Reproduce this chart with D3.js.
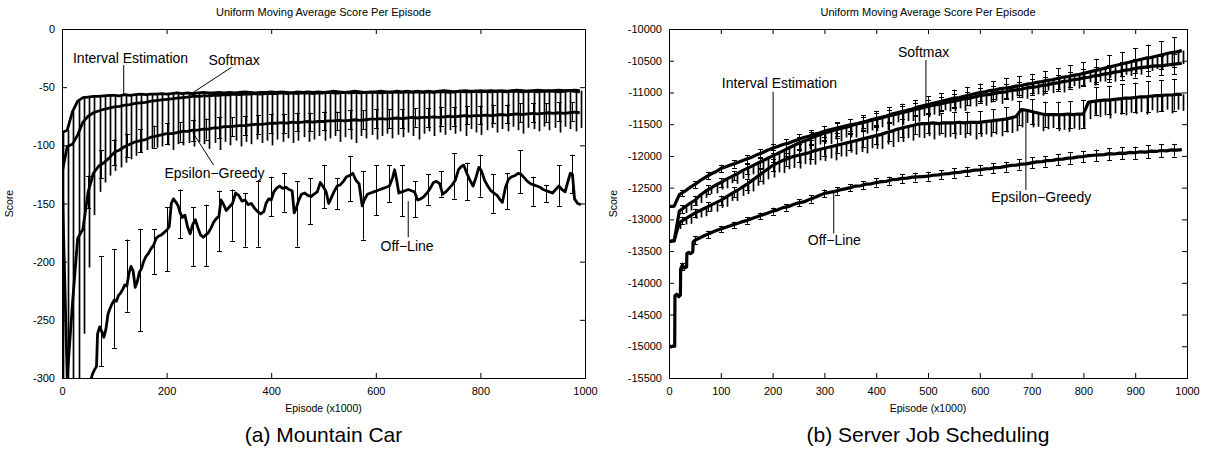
<!DOCTYPE html>
<html>
<head>
<meta charset="utf-8">
<script src="https://cdn.jsdelivr.net/npm/d3@7"></script>
<style>
  body { margin: 0; background: #fff; }
  text { font-family: "Liberation Sans", Arial, Helvetica, sans-serif; fill: #000; }
</style>
</head>
<body>
<div id="chart"></div>
<script>
// ---------- shared ----------
const titleText = "Uniform Moving Average Score Per Episode";
const xLabelText = "Episode (x1000)";
const yLabelText = "Score";
const episodes = d3.range(0, 1000, 10);   // sample grid, x1000 episodes

// ---------- (a) Mountain Car ----------
const mcXTicks = [0, 200, 400, 600, 800, 1000];
const mcYTicks = [0, -50, -100, -150, -200, -250, -300];

const mcIE = [-89,-87,-71,-62,-59,-58.5,-58,-58,-57.5,-57,
  -57,-57.5,-56.5,-57,-56.5,-56,-56.5,-56,-56,-55.5,
  -56,-55.5,-55,-55.5,-55,-55.5,-55,-54.5,-55,-55,
  -54.5,-55,-54.5,-55,-54.5,-54,-54.5,-55,-54.5,-54.5,
  -54,-54.5,-54,-54.5,-55,-54,-54.5,-54,-54.5,-54,
  -54.5,-54,-53.5,-54,-54.5,-54,-53.5,-54,-54.5,-54,
  -54,-53.5,-54,-54.5,-53.5,-54,-53.5,-54,-53.5,-54,
  -53.5,-54,-53.5,-53,-53.5,-54,-53.5,-53,-53.5,-53.5,
  -53,-53.5,-53,-53.5,-53,-53.5,-53,-52.5,-53,-53.5,
  -53,-52.5,-53,-53.5,-53,-52.5,-53,-53,-52.5,-53];

const mcSoftmax = [-124,-101,-99,-91,-80,-75,-72,-70.5,-69,-68,
  -67,-66.5,-65.5,-65,-64,-63.5,-63,-62,-61.5,-61,
  -60.5,-60,-59.5,-59,-58.5,-58,-58,-57.5,-57.5,-57,
  -57,-56.5,-56.5,-56,-56.5,-56,-56,-55.5,-56,-55.5,
  -55.5,-55.5,-55,-55.5,-55,-55.5,-55,-55,-55.5,-55,
  -55,-54.5,-55,-55,-54.5,-55,-54.5,-55,-54.5,-54.5,
  -54.5,-55,-54.5,-54,-54.5,-54.5,-54,-54.5,-54,-54.5,
  -54,-54.5,-54,-54,-54.5,-54,-53.5,-54,-54,-53.5,
  -54,-53.5,-54,-53.5,-53.5,-54,-53.5,-53.5,-54,-53.5,
  -53.5,-54,-53.5,-53,-53.5,-54,-53.5,-53,-53.5,-54];

const mcEpsilon = [-124,-300,-236,-180,-172,-140,-124,-118,-115,-111,
  -106,-104,-101,-99,-97,-96,-95,-93,-92,-91,
  -90,-90,-89,-88,-88,-87,-87,-86,-86,-85,
  -85,-84,-84,-83.5,-83,-83,-82.5,-82,-82,-81.5,
  -81,-81,-80.5,-81,-80,-80.5,-80,-79.5,-80,-79.5,
  -79.5,-79,-79,-78.5,-79,-78.5,-78,-78.5,-78,-77.5,
  -77.5,-77,-77.5,-77,-76.5,-77,-76.5,-76,-76.5,-76,
  -76,-75.5,-76,-75.5,-75,-75.5,-75,-74.5,-75,-74.5,
  -74.5,-74,-74.5,-74,-73.5,-74,-73.5,-73,-73.5,-73,
  -72.5,-73,-72.5,-72,-72.5,-72,-72.5,-72,-71.5,-72];

// lowest point of the periodic drops of the upper curves
const mcDrops = [-300,-300,-300,-300,-262,-205,-160,-140,-132,-126,
  -122,-119,-115,-112,-109,-106,-104,-103,-102,-101,
  -100,-104,-99,-100,-98,-101,-97,-99,-103,-98,
  -104,-97,-100,-96,-101,-97,-99,-95,-98,-96,
  -100,-95,-97,-94,-98,-96,-93,-97,-95,-92,
  -96,-94,-92,-97,-93,-95,-98,-92,-94,-91,
  -95,-92,-90,-94,-91,-93,-89,-92,-95,-90,
  -88,-92,-89,-91,-87,-90,-88,-92,-86,-89,
  -91,-87,-85,-89,-86,-88,-84,-87,-90,-85,
  -86,-88,-84,-87,-85,-89,-84,-86,-88,-85];

const mcOffline = [[55,-302],[58,-297],[62,-293],[66,-290],[68,-262],[72,-256],[76,-260],[80,-265],
  [84,-258],[88,-245],[92,-240],[96,-236],[100,-233],[104,-234],[108,-229],[112,-227],[116,-224],
  [120,-220],[124,-221],[128,-210],[132,-204],[136,-208],[140,-222],[144,-217],[148,-209],[152,-206],
  [156,-200],[160,-196],[165,-193],[170,-189],[175,-186],[180,-180],[185,-178],[190,-177],[195,-175],
  [200,-173],[205,-170],[209,-150],[213,-146],[218,-149],[222,-152],[226,-158],[230,-162],[235,-160],
  [240,-170],[245,-176],[250,-168],[255,-164],[260,-171],[265,-177],[270,-179],[275,-177],[280,-175],
  [285,-171],[290,-166],[295,-163],[300,-161],[304,-147],[308,-150],[314,-156],[320,-153],[326,-150],
  [332,-141],[338,-143],[344,-148],[350,-147],[356,-151],[362,-150],[368,-154],[374,-157],[380,-159],
  [386,-157],[390,-150],[395,-146],[400,-147],[405,-140],[410,-137],[416,-135],[422,-137],[428,-136],
  [434,-138],[440,-139],[444,-158],[448,-154],[452,-148],[458,-142],[464,-141],[470,-143],[476,-144],
  [482,-142],[488,-140],[494,-132],[500,-136],[505,-140],[510,-150],[515,-145],[520,-140],[526,-135],
  [532,-134],[538,-131],[544,-127],[550,-126],[556,-124],[562,-130],[568,-133],[574,-152],[578,-147],
  [584,-142],[590,-141],[596,-140],[602,-139],[608,-138],[614,-137],[620,-136],[626,-135],[632,-128],
  [636,-121],[640,-130],[644,-141],[650,-140],[656,-139],[662,-138],[668,-139],[674,-140],[680,-147],
  [686,-146],[692,-144],[698,-141],[704,-137],[710,-132],[716,-131],[722,-133],[728,-142],[734,-140],
  [740,-137],[746,-134],[752,-130],[758,-121],[764,-118],[768,-117],[774,-124],[780,-130],[786,-135],
  [792,-127],[797,-119],[802,-122],[808,-130],[814,-135],[820,-139],[826,-141],[832,-143],[838,-147],
  [842,-149],[848,-136],[854,-129],[860,-127],[866,-126],[872,-124],[878,-125],[884,-128],[890,-131],
  [896,-133],[902,-134],[908,-135],[914,-136],[920,-138],[926,-139],[932,-140],[938,-141],[944,-138],
  [950,-135],[956,-138],[962,-140],[968,-130],[972,-124],[976,-125],[980,-146],[986,-150],[992,-151]];

// error bars: [episode, low, high]
const mcOfflineBars = [[75,-290,-195],[100,-274,-189],[125,-243,-181],[150,-260,-172],[175,-211,-172],
  [200,-208,-153],[225,-180,-138],[250,-204,-153],[275,-204,-151],[300,-191,-139],[325,-182,-138],
  [350,-187,-141],[375,-187,-131],[400,-161,-127],[425,-157,-124],[450,-187,-131],[475,-168,-128],
  [500,-154,-117],[525,-155,-128],[550,-148,-109],[575,-181,-122],[600,-160,-117],[625,-149,-117],
  [650,-161,-117],[675,-162,-131],[700,-151,-125],[725,-144,-122],[750,-146,-107],[775,-147,-115],
  [800,-144,-108],[825,-158,-125],[850,-155,-124],[875,-141,-104],[900,-152,-127],[925,-149,-134],
  [950,-152,-117],[975,-141,-108]];

const mcEpsilonBars = [[50,-154,-126],[75,-128,-104],[100,-117,-95],[125,-110,-90],[150,-106,-86],
  [175,-102,-83],[200,-99,-81],[225,-97,-80],[250,-96,-78],[275,-95,-77],[300,-94,-76],[325,-92,-76],
  [350,-91,-75],[375,-90,-74],[400,-89,-73],[425,-89,-73],[450,-88,-72],[475,-88,-72],[500,-87,-71],
  [525,-87,-71],[550,-86,-70],[575,-86,-70],[600,-85,-69],[625,-85,-69],[650,-85,-69],[675,-84,-68],
  [700,-84,-68],[725,-83,-67],[750,-83,-67],[775,-82,-66],[800,-82,-66],[825,-81,-65],[850,-81,-65],
  [875,-80,-64],[900,-80,-64],[925,-80,-64],[950,-79,-63],[975,-79,-63]];

const mcLabels = [
  { text: "Interval Estimation", at: [21, -29],   from: [118, -31],  to: [118, -57] },
  { text: "Softmax",             at: [280, -31],  from: [324, -33],  to: [246, -56] },
  { text: "Epsilon\u2212Greedy", at: [196, -128], from: [290, -117], to: [250, -89] },
  { text: "Off\u2212Line",       at: [609, -191], from: [662, -179], to: [662, -148] }
];

// ---------- (b) Server Job Scheduling ----------
const sjsXTicks = [0, 100, 200, 300, 400, 500, 600, 700, 800, 900, 1000];
const sjsYTicks = [-10000, -10500, -11000, -11500, -12000, -12500, -13000, -13500, -14000, -14500, -15000, -15500];

const sjsIE = [-12800,-12790,-12610,-12560,-12500,-12450,-12390,-12340,-12290,-12250,
  -12200,-12170,-12140,-12110,-12080,-12050,-12020,-11980,-11950,-11910,
  -11880,-11850,-11820,-11800,-11770,-11740,-11710,-11690,-11660,-11640,
  -11610,-11590,-11570,-11550,-11530,-11510,-11500,-11480,-11460,-11440,
  -11420,-11400,-11380,-11360,-11340,-11320,-11300,-11280,-11260,-11240,
  -11220,-11200,-11190,-11170,-11150,-11140,-11120,-11100,-11090,-11070,
  -11050,-11040,-11030,-11010,-11000,-10990,-10970,-10960,-10950,-10930,
  -10920,-10910,-10890,-10880,-10860,-10850,-10830,-10820,-10800,-10790,
  -10770,-10760,-10740,-10730,-10710,-10700,-10680,-10670,-10650,-10640,
  -10620,-10610,-10600,-10590,-10580,-10580,-10570,-10560,-10550,-10540];

const sjsSoftmax = [-13350,-13340,-12870,-12810,-12750,-12700,-12620,-12560,-12510,-12460,
  -12420,-12370,-12330,-12290,-12240,-12200,-12160,-12120,-12080,-12040,
  -12000,-11960,-11920,-11880,-11840,-11800,-11770,-11740,-11700,-11670,
  -11640,-11620,-11590,-11570,-11550,-11530,-11500,-11480,-11460,-11430,
  -11410,-11390,-11370,-11340,-11320,-11300,-11280,-11260,-11230,-11210,
  -11190,-11170,-11150,-11130,-11110,-11090,-11080,-11060,-11040,-11020,
  -11000,-10990,-10970,-10960,-10940,-10930,-10920,-10900,-10890,-10870,
  -10860,-10840,-10830,-10810,-10800,-10780,-10760,-10750,-10730,-10720,
  -10700,-10680,-10660,-10640,-10620,-10600,-10580,-10560,-10540,-10520,
  -10500,-10480,-10460,-10450,-10430,-10410,-10390,-10370,-10360,-10340];

const sjsEpsilon = [-13350,-13330,-13050,-13000,-12950,-12900,-12860,-12820,-12780,-12740,
  -12700,-12650,-12600,-12550,-12500,-12450,-12390,-12330,-12270,-12210,
  -12150,-12110,-12070,-12040,-12010,-11990,-11970,-11950,-11920,-11900,
  -11880,-11860,-11840,-11820,-11800,-11780,-11760,-11740,-11720,-11700,
  -11680,-11660,-11630,-11610,-11580,-11560,-11540,-11520,-11500,-11490,
  -11490,-11480,-11490,-11480,-11480,-11480,-11470,-11480,-11470,-11470,
  -11470,-11460,-11450,-11440,-11430,-11420,-11400,-11380,-11270,-11280,
  -11300,-11320,-11340,-11350,-11350,-11350,-11350,-11340,-11350,-11340,
  -11340,-11150,-11140,-11130,-11120,-11120,-11110,-11100,-11090,-11090,
  -11080,-11070,-11070,-11060,-11050,-11050,-11040,-11040,-11030,-11030];

// depth of the periodic drops below each curve
const sjsSoftmaxDrop = [0,0,0,90,110,80,120,100,90,130,
  110,140,100,150,120,160,130,170,140,150,
  180,130,170,150,190,140,180,160,200,150,
  170,190,150,200,160,180,210,150,190,170,
  200,160,220,180,150,210,170,190,230,160,
  200,180,220,150,190,210,170,230,180,200,
  160,220,190,170,240,180,210,160,200,230,
  170,190,220,160,210,180,240,190,170,220,
  200,160,230,190,210,170,250,200,180,220,
  190,240,170,210,200,230,180,220,190,210];

const sjsEpsilonDrop = [0,0,100,80,120,90,110,130,100,140,
  120,150,110,160,130,150,170,140,180,160,
  190,150,200,170,180,210,160,190,220,170,
  200,180,230,190,210,170,220,200,240,180,
  210,230,190,250,200,220,180,240,210,230,
  200,260,190,230,220,250,200,240,210,270,
  230,200,250,220,260,210,240,230,280,200,
  250,220,270,230,210,260,240,280,220,250,
  230,270,210,260,240,290,220,250,270,230,
  260,240,280,220,270,250,230,290,240,260];

const sjsOffline = [[0,-14990],[4,-15010],[8,-14995],[11,-15000],[11.5,-14200],[15,-14180],[19,-14220],
  [22,-14190],[22.5,-13780],[26,-13720],[30,-13770],[34,-13750],[34.5,-13540],[38,-13520],[42,-13540],
  [46,-13510],[46.5,-13360],[50,-13330],[60,-13290],[70,-13250],[80,-13215],[90,-13180],[100,-13150],
  [110,-13125],[120,-13095],[130,-13070],[140,-13040],[150,-13020],[160,-12985],[170,-12960],[180,-12930],
  [190,-12905],[200,-12870],[210,-12850],[220,-12815],[230,-12800],[240,-12765],[250,-12740],[260,-12725],
  [270,-12690],[280,-12660],[290,-12625],[300,-12590],[310,-12575],[320,-12560],[330,-12535],[340,-12520],
  [350,-12500],[360,-12475],[370,-12470],[380,-12445],[390,-12440],[400,-12420],[410,-12405],[420,-12400],
  [430,-12375],[440,-12370],[450,-12355],[460,-12350],[470,-12335],[480,-12330],[490,-12325],[500,-12320],
  [510,-12305],[520,-12300],[530,-12285],[540,-12280],[550,-12265],[560,-12260],[570,-12245],[580,-12240],
  [590,-12225],[600,-12220],[610,-12205],[620,-12200],[630,-12185],[640,-12180],[650,-12165],[660,-12150],
  [670,-12145],[680,-12130],[690,-12125],[700,-12110],[710,-12095],[720,-12090],[730,-12075],[740,-12070],
  [750,-12055],[760,-12050],[770,-12035],[780,-12030],[790,-12015],[800,-12010],[810,-11995],[820,-11990],
  [830,-11985],[840,-11980],[850,-11965],[860,-11970],[870,-11955],[880,-11960],[890,-11945],[900,-11950],
  [910,-11935],[920,-11940],[930,-11925],[940,-11930],[950,-11915],[960,-11920],[970,-11905],[980,-11910],
  [990,-11900]];

const sjsOfflineBars = [[25,-13800,-13680],[50,-13390,-13270],[75,-13300,-13180],[100,-13200,-13100],
  [125,-13135,-13035],[150,-13070,-12970],[175,-12995,-12895],[200,-12925,-12815],[225,-12865,-12755],
  [250,-12795,-12685],[275,-12735,-12615],[300,-12650,-12530],[325,-12610,-12490],[350,-12560,-12440],
  [375,-12525,-12395],[400,-12485,-12355],[425,-12455,-12325],[450,-12430,-12290],[475,-12405,-12265],
  [500,-12390,-12250],[525,-12365,-12225],[550,-12345,-12195],[575,-12320,-12170],[600,-12295,-12145],
  [625,-12275,-12115],[650,-12250,-12090],[675,-12215,-12055],[700,-12195,-12025],[725,-12170,-12000],
  [750,-12145,-11975],[775,-12125,-11945],[800,-12100,-11920],[825,-12080,-11900],[850,-12065,-11875],
  [875,-12055,-11865],[900,-12045,-11855],[925,-12035,-11835],[950,-12020,-11820],[975,-12010,-11810]];

const sjsSoftmaxBars = [[25,-12900,-12780],[50,-12770,-12630],[75,-12605,-12465],[100,-12490,-12350],
  [125,-12385,-12235],[150,-12280,-12120],[175,-12185,-12015],[200,-12090,-11910],[225,-11995,-11805],
  [250,-11900,-11700],[275,-11820,-11620],[300,-11745,-11535],[325,-11690,-11470],[350,-11640,-11420],
  [375,-11585,-11355],[400,-11530,-11290],[425,-11475,-11235],[450,-11425,-11175],[475,-11370,-11120],
  [500,-11320,-11060],[525,-11270,-11010],[550,-11225,-10955],[575,-11190,-10910],[600,-11140,-10860],
  [625,-11110,-10820],[650,-11080,-10780],[675,-11045,-10745],[700,-11015,-10705],[725,-10980,-10660],
  [750,-10945,-10615],[775,-10910,-10570],[800,-10875,-10525],[825,-10830,-10470],[850,-10785,-10415],
  [875,-10740,-10360],[900,-10700,-10300],[925,-10665,-10245],[950,-10630,-10190],[975,-10605,-10125]];

const sjsIEBars = [[25,-12635,-12535],[50,-12505,-12395],[75,-12370,-12260],[100,-12260,-12140],
  [125,-12185,-12065],[150,-12115,-11985],[175,-12035,-11895],[200,-11950,-11810],[225,-11885,-11735],
  [250,-11820,-11660],[275,-11755,-11595],[300,-11695,-11525],[325,-11645,-11475],[350,-11600,-11420],
  [375,-11560,-11380],[400,-11515,-11325],[425,-11465,-11275],[450,-11420,-11220],[475,-11370,-11170],
  [500,-11325,-11115],[525,-11285,-11075],[550,-11250,-11030],[575,-11205,-10985],[600,-11165,-10935],
  [625,-11135,-10905],[650,-11110,-10870],[675,-11075,-10835],[700,-11045,-10795],[725,-11010,-10760],
  [750,-10980,-10720],[775,-10940,-10680],[800,-10905,-10635],[825,-10870,-10600],[850,-10840,-10560],
  [875,-10800,-10520],[900,-10765,-10475],[925,-10745,-10445],[950,-10730,-10430],[975,-10710,-10400]];

const sjsEpsilonBars = [[25,-13080,-12960],[50,-12965,-12835],[75,-12870,-12730],[100,-12775,-12625],
  [125,-12655,-12495],[150,-12535,-12365],[175,-12390,-12210],[200,-12245,-12055],[225,-12155,-11955],
  [250,-12095,-11885],[275,-12045,-11825],[300,-11995,-11765],[325,-11950,-11710],[350,-11905,-11655],
  [375,-11860,-11600],[400,-11815,-11545],[425,-11760,-11480],[450,-11705,-11415],[475,-11660,-11360],
  [500,-11645,-11335],[525,-11645,-11325],[550,-11645,-11315],[575,-11645,-11305],[600,-11645,-11295],
  [625,-11625,-11265],[650,-11605,-11235],[675,-11520,-11140],[700,-11495,-11105],[725,-11545,-11145],
  [750,-11555,-11145],[775,-11555,-11135],[800,-11555,-11125],[825,-11355,-10915],[850,-11345,-10895],
  [875,-11325,-10865],[900,-11315,-10845],[925,-11305,-10825],[950,-11295,-10805],[975,-11285,-10785]];

const sjsLabels = [
  { text: "Softmax",             at: [442, -10436], from: [496, -10489], to: [496, -11200] },
  { text: "Interval Estimation", at: [102, -10935], from: [201, -10988], to: [201, -11860] },
  { text: "Epsilon\u2212Greedy", at: [622, -12722], from: [689, -12537], to: [689, -11277] },
  { text: "Off\u2212Line",       at: [268, -13403], from: [318, -13222], to: [318, -12580] }
];

// ---------- drawing ----------
const svg = d3.select("#chart").append("svg")
  .attr("width", 1205)
  .attr("height", 449);

const zip = (vals) => vals.map((v, i) => [episodes[i], v]);
const plain = d => String(d);   // gnuplot style: no thousands separator, ascii minus
const px = v => Math.round(v) + 0.5;

function drawPanel(p) {
  const x = d3.scaleLinear().domain([0, 1000]).range([p.left, p.right]);
  const y = d3.scaleLinear().domain(p.yDomain).range([p.bottom, p.top]);
  const g = svg.append("g");

  g.append("clipPath").attr("id", "clip-" + p.id)
    .append("rect")
      .attr("x", p.left).attr("y", p.top)
      .attr("width", p.right - p.left).attr("height", p.bottom - p.top);

  // axes, ticks pointing inward on all four sides
  const ax = [
    [d3.axisBottom(x).tickValues(p.xTicks).tickSize(-5).tickPadding(9).tickFormat(plain), `translate(0,${p.bottom})`],
    [d3.axisTop(x).tickValues(p.xTicks).tickSize(-5).tickFormat(""), `translate(0,${p.top})`],
    [d3.axisLeft(y).tickValues(p.yTicks).tickSize(-5).tickPadding(7).tickFormat(plain), `translate(${p.left},0)`],
    [d3.axisRight(y).tickValues(p.yTicks).tickSize(-5).tickFormat(""), `translate(${p.right},0)`]
  ];
  ax.forEach(([a, t]) => {
    const ag = g.append("g").attr("transform", t).call(a);
    ag.select(".domain").remove();
    ag.selectAll("text").style("font-size", "11px").style("font-family", "'Liberation Sans', Arial, sans-serif");
    ag.selectAll("line").attr("stroke", "#000");
  });

  g.append("rect")
    .attr("x", p.left + 0.5).attr("y", p.top + 0.5)
    .attr("width", p.right - p.left).attr("height", p.bottom - p.top)
    .attr("fill", "none").attr("stroke", "#000").attr("stroke-width", 1);

  const plot = g.append("g").attr("clip-path", `url(#clip-${p.id})`);
  const line = d3.line().x(d => x(d[0])).y(d => y(d[1]));

  // periodic drops
  plot.selectAll(null)
    .data(p.drops)
    .enter()
      .append("line")
      .attr("x1", d => px(x(d[0]) + 1)).attr("x2", d => px(x(d[0]) + 1))
      .attr("y1", d => y(d[1])).attr("y2", d => y(d[2]))
      .attr("stroke", "#000").attr("stroke-width", 1.7);

  // error bars
  const cap = 2.5;
  p.bars.forEach(bars => {
    const eb = plot.selectAll(null).data(bars).enter().append("g");
    eb.append("line")
      .attr("x1", d => px(x(d[0]))).attr("x2", d => px(x(d[0])))
      .attr("y1", d => y(d[1])).attr("y2", d => y(d[2]));
    eb.append("line")
      .attr("x1", d => px(x(d[0])) - cap).attr("x2", d => px(x(d[0])) + cap)
      .attr("y1", d => px(y(d[1]))).attr("y2", d => px(y(d[1])));
    eb.append("line")
      .attr("x1", d => px(x(d[0])) - cap).attr("x2", d => px(x(d[0])) + cap)
      .attr("y1", d => px(y(d[2]))).attr("y2", d => px(y(d[2])));
    eb.selectAll("line").attr("stroke", "#000").attr("stroke-width", 1);
  });

  // curves
  p.series.forEach(s => {
    plot.append("path")
      .datum(s)
      .attr("d", line)
      .attr("fill", "none")
      .attr("stroke", "#000")
      .attr("stroke-width", p.lineWidth)
      .attr("stroke-linejoin", "round");
  });

  // labels with pointer lines
  p.labels.forEach(l => {
    g.append("line")
      .attr("x1", x(l.from[0])).attr("y1", y(l.from[1]))
      .attr("x2", x(l.to[0])).attr("y2", y(l.to[1]))
      .attr("stroke", "#000").attr("stroke-width", 1);
    g.append("text")
      .attr("x", x(l.at[0])).attr("y", y(l.at[1]))
      .style("font-size", "14px")
      .text(l.text);
  });

  const cx = (p.left + p.right) / 2;
  g.append("text").attr("x", cx).attr("y", 16)
    .attr("text-anchor", "middle").style("font-size", "11px").text(titleText);
  g.append("text").attr("x", cx).attr("y", 412)
    .attr("text-anchor", "middle").style("font-size", "10.5px").text(xLabelText);
  g.append("text")
    .attr("transform", `translate(${p.yLabelX},${(p.top + p.bottom) / 2}) rotate(-90)`)
    .attr("text-anchor", "middle").style("font-size", "10.5px").text(yLabelText);
  g.append("text").attr("x", cx).attr("y", 442)
    .attr("text-anchor", "middle").style("font-size", "21px").text(p.caption);
}

drawPanel({
  id: "mc", left: 62, right: 585, top: 29, bottom: 378, yLabelX: 13, lineWidth: 2.8,
  yDomain: [-300, 0], xTicks: mcXTicks, yTicks: mcYTicks,
  series: [zip(mcEpsilon), zip(mcSoftmax), zip(mcIE), mcOffline],
  drops: episodes.map((e, i) => [e, mcIE[i], mcDrops[i]]),
  bars: [mcOfflineBars, mcEpsilonBars],
  labels: mcLabels,
  caption: "(a) Mountain Car"
});

drawPanel({
  id: "sjs", left: 669, right: 1187, top: 29, bottom: 378, yLabelX: 617, lineWidth: 3.2,
  yDomain: [-15500, -10000], xTicks: sjsXTicks, yTicks: sjsYTicks,
  series: [zip(sjsEpsilon), zip(sjsSoftmax), zip(sjsIE), sjsOffline],
  drops: episodes.map((e, i) => [e, sjsSoftmax[i], sjsSoftmax[i] - sjsSoftmaxDrop[i]])
    .concat(episodes.map((e, i) => [e, sjsEpsilon[i], sjsEpsilon[i] - sjsEpsilonDrop[i]]))
    .filter(d => d[1] !== d[2]),
  bars: [sjsOfflineBars, sjsSoftmaxBars, sjsIEBars, sjsEpsilonBars],
  labels: sjsLabels,
  caption: "(b) Server Job Scheduling"
});
</script>
</body>
</html>
